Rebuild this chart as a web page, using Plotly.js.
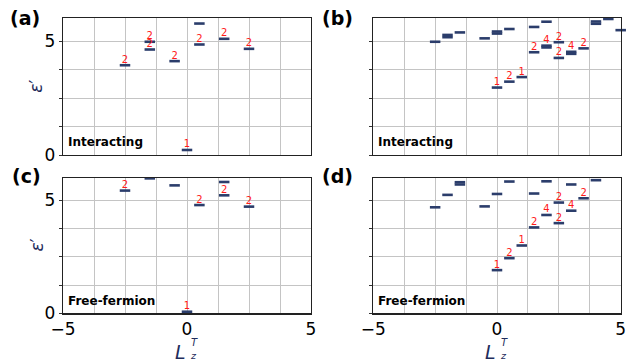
<!DOCTYPE html>
<html>
<head>
<meta charset="utf-8">
<script src="https://cdn.plot.ly/plotly-3.0.1.min.js"></script>
<style>html,body{margin:0;padding:0;background:#fff;}#chart{width:635px;height:362px;}</style>
</head>
<body>
<div id="chart"></div>
<script>
// ---- Data ----
// Panel (a): Interacting, odd sector
const aX = [-2.5, -1.5, -1.5, -0.5, 0, 0.5, 0.5, 1.5, 2.5, -1.0];
const aY = [3.94, 4.63, 4.97, 4.12, 0.22, 4.85, 5.77, 5.10, 4.66, 6.04];
const aLab = ['2', '2', '2', '2', '1', '2', '', '2', '2', ''];

// Panel (b): Interacting, even sector
const bX = [-2.5, -2, -2, -1.5, -0.5, 0, 0, 0, 0.5, 0.5, 1, 1.5, 1.5, 2, 2, 2, 2.5, 2.5, 2.5, 3, 3, 3, 3.5, 4, 4, 4.5, 5];
const bY = [4.97, 5.17, 5.27, 5.38, 5.12, 5.33, 5.42, 2.96, 5.53, 3.22, 3.42, 5.62, 4.51, 5.85, 4.72, 4.80, 6.01, 4.95, 4.26, 6.01, 4.44, 4.53, 4.68, 5.76, 5.86, 5.97, 5.48];
const bLab = ['', '', '', '', '', '', '', '1', '', '2', '1', '', '2', '', '', '4', '', '2', '2', '', '', '4', '2', '', '', '', ''];

// Panel (c): Free-fermion, odd sector
const cX = [-2.5, -1.5, -0.5, 0, 0.5, 1.5, 1.5, 2.5];
const cY = [5.43, 5.97, 5.66, 0.07, 4.79, 5.81, 5.22, 4.72];
const cLab = ['2', '', '', '1', '2', '', '2', '2'];

// Panel (d): Free-fermion, even sector
const dX = [-2.5, -2, -1.5, -1.5, -0.5, 0, 0, 0.5, 0.5, 1, 1.5, 1.5, 2, 2, 2.5, 2.5, 3, 3, 3.5, 4];
const dY = [4.69, 5.24, 5.70, 5.80, 4.73, 5.28, 1.91, 5.83, 2.44, 3.00, 5.30, 3.80, 5.84, 4.35, 4.90, 3.99, 5.70, 4.54, 5.09, 5.89];
const dLab = ['', '', '', '', '', '', '1', '', '2', '1', '', '2', '', '4', '2', '2', '', '4', '2', ''];

const panelLetters = ['(a)', '(b)', '(c)', '(d)'];
const panelTags = ['Interacting', 'Interacting', 'Free-fermion', 'Free-fermion'];
const xTickVals = [-5, -3.75, -2.5, -1.25, 0, 1.25, 2.5, 3.75, 5];
const xTickText = ['\u22125', '', '', '', '0', '', '', '', '5'];
const yTickVals = [0, 1.25, 2.5, 3.75, 5];
const yTickText = ['0', '', '', '', '5'];

// ---- Styling ----
const NAVY = '#2b3d6b';
const TITLE_NAVY = '#1f2d5c';
const FONT = 'DejaVu Sans, sans-serif';
const W = 635, H = 362;

const panels = [
  {x: aX, y: aY, t: aLab, xa: 'x', ya: 'y'},
  {x: bX, y: bY, t: bLab, xa: 'x2', ya: 'y2'},
  {x: cX, y: cY, t: cLab, xa: 'x3', ya: 'y3'},
  {x: dX, y: dY, t: dLab, xa: 'x4', ya: 'y4'}
];

const traces = [];
panels.forEach(p => {
  traces.push({
    type: 'scatter', mode: 'markers', x: p.x, y: p.y, xaxis: p.xa, yaxis: p.ya,
    cliponaxis: false, hoverinfo: 'skip', showlegend: false,
    marker: {symbol: 'line-ew', size: 7.5, color: NAVY, line: {color: NAVY, width: 2.6}}
  });
  traces.push({
    type: 'scatter', mode: 'text', x: p.x, y: p.y, text: p.t, xaxis: p.xa, yaxis: p.ya,
    cliponaxis: false, hoverinfo: 'skip', showlegend: false,
    textposition: 'top center', textfont: {family: FONT, size: 10, color: '#ff1a1a'}
  });
});

// Pixel geometry of axes boxes
const colX = [[63, 311], [373.3, 620.7]];
const rowY = [[18.3, 155], [177.7, 313.3]];
function xdom(c) { return [colX[c][0] / W, colX[c][1] / W]; }
function ydom(r) { return [1 - rowY[r][1] / H, 1 - rowY[r][0] / H]; }

function xaxis(c, r, showLabels) {
  return {
    domain: xdom(c), anchor: ['y', 'y2', 'y3', 'y4'][r * 2 + c],
    range: [-5, 5], tickmode: 'array', tickvals: xTickVals,
    ticktext: showLabels ? xTickText : xTickVals.map(() => ''),
    ticks: '', ticklen: 0,
    showgrid: true, gridcolor: '#c4c4c4', gridwidth: 1, zeroline: false,
    showline: true, mirror: true, linecolor: '#222', linewidth: 1.2,
    tickfont: {family: FONT, size: 17, color: '#000'}, fixedrange: true
  };
}
function yaxis(c, r, showLabels) {
  return {
    domain: ydom(r), anchor: ['x', 'x2', 'x3', 'x4'][r * 2 + c],
    range: [0, 6], tickmode: 'array', tickvals: yTickVals,
    ticktext: showLabels ? yTickText : yTickVals.map(() => ''),
    ticks: 'outside', ticklen: 3, tickcolor: '#333',
    showgrid: true, gridcolor: '#c4c4c4', gridwidth: 1, zeroline: false,
    showline: true, mirror: true, linecolor: '#222', linewidth: 1.2,
    tickfont: {family: FONT, size: 17, color: '#000'}, fixedrange: true
  };
}

const annotations = [];
// panel letters
const letterPos = [[8, 18], [320, 18], [10, 176], [320, 176]];
panelLetters.forEach((s, i) => {
  annotations.push({xref: 'paper', yref: 'paper', x: letterPos[i][0] / W, y: 1 - letterPos[i][1] / H,
    xanchor: 'left', yanchor: 'middle', showarrow: false, text: '<b>' + s + '</b>',
    font: {family: FONT, size: 19, color: '#000'}});
});
// Interacting / Free-fermion tags
const tagAxes = [['x', 'y'], ['x2', 'y2'], ['x3', 'y3'], ['x4', 'y4']];
panelTags.forEach((s, i) => {
  annotations.push({xref: tagAxes[i][0], yref: tagAxes[i][1], x: -4.88, y: 0.55,
    xanchor: 'left', yanchor: 'middle', showarrow: false, text: '<b>' + s + '</b>',
    font: {family: FONT, size: 12, color: '#000'}});
});
// y titles
[0, 1].forEach(r => {
  const cy = (rowY[r][0] + rowY[r][1]) / 2;
  annotations.push({xref: 'paper', yref: 'paper', x: 36 / W, y: 1 - cy / H,
    xanchor: 'center', yanchor: 'middle', showarrow: false, textangle: -90,
    text: '<i>\u03b5</i>\u2032', font: {family: FONT, size: 17, color: TITLE_NAVY}});
});
// x titles  L_z^T
[0, 1].forEach(c => {
  const cx = (colX[c][0] + colX[c][1]) / 2;
  annotations.push({xref: 'paper', yref: 'paper', x: (cx + 1) / W, y: 1 - 351.5 / H,
    xanchor: 'right', yanchor: 'middle', showarrow: false,
    text: '<i>L</i>', font: {family: FONT, size: 19, color: TITLE_NAVY}});
  annotations.push({xref: 'paper', yref: 'paper', x: (cx + 2) / W, y: 1 - 342.5 / H,
    xanchor: 'left', yanchor: 'middle', showarrow: false,
    text: '<i>T</i>', font: {family: FONT, size: 10, color: TITLE_NAVY}});
  annotations.push({xref: 'paper', yref: 'paper', x: (cx + 1) / W, y: 1 - 355.5 / H,
    xanchor: 'left', yanchor: 'middle', showarrow: false,
    text: '<i>z</i>', font: {family: FONT, size: 9.5, color: TITLE_NAVY}});
});

const layout = {
  width: W, height: H, margin: {l: 0, r: 0, t: 0, b: 0},
  paper_bgcolor: '#fff', plot_bgcolor: '#fff', showlegend: false,
  font: {family: FONT},
  xaxis: xaxis(0, 0, false), yaxis: yaxis(0, 0, true),
  xaxis2: xaxis(1, 0, false), yaxis2: yaxis(1, 0, false),
  xaxis3: xaxis(0, 1, true), yaxis3: yaxis(0, 1, true),
  xaxis4: xaxis(1, 1, true), yaxis4: yaxis(1, 1, false),
  annotations: annotations
};

Plotly.newPlot('chart', traces, layout, {staticPlot: true, displayModeBar: false});
</script>
</body>
</html>
